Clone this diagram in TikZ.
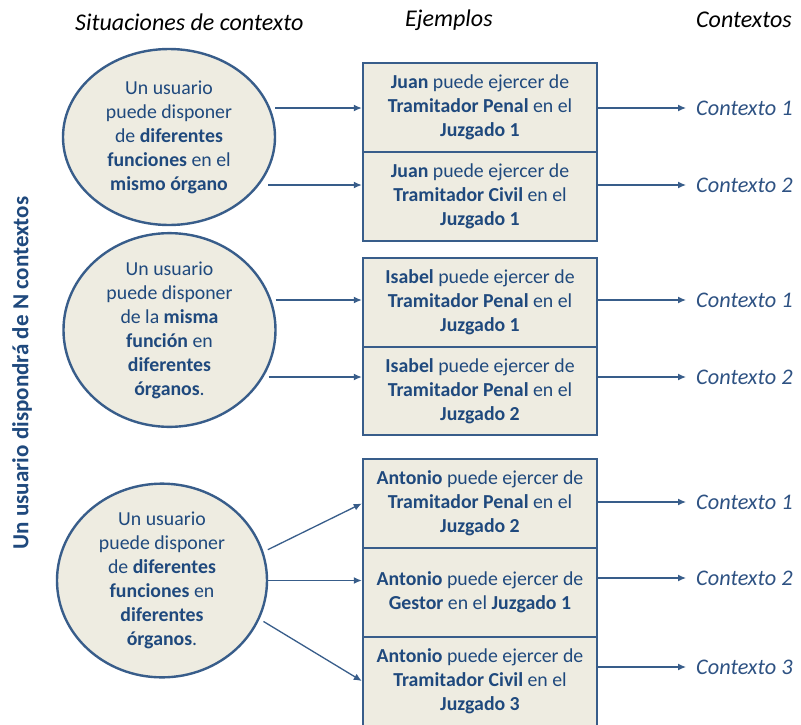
\documentclass[tikz,border=0pt]{standalone}
\usepackage{fontspec}
\setmainfont{Carlito}
\usetikzlibrary{shapes.geometric,arrows.meta}
\definecolor{tan}{HTML}{EEECE1}
\definecolor{edge}{HTML}{385D8A}
\definecolor{ink}{HTML}{1F497D}
\definecolor{inklight}{HTML}{2E5283}
\tikzset{
  situ/.style={ellipse, draw=edge, fill=tan, line width=2.4pt, inner sep=0pt,
    minimum width=212pt, minimum height=176pt, align=center, text=ink,
    font=\fontsize{19.8}{24}\selectfont},
  ejbox/.style={rectangle, draw=edge, fill=tan, line width=2.4pt, inner sep=0pt,
    minimum width=234pt, minimum height=88.5pt, align=center, text=ink,
    font=\fontsize{19.8}{24}\selectfont},
  ctx/.style={anchor=west, inner sep=0pt, text=inklight,
    font=\fontsize{22.3}{24}\selectfont\itshape},
  head/.style={inner sep=0pt, text=black, font=\fontsize{24}{26}\selectfont\itshape},
  arr/.style={draw=edge, line width=1.3pt, -{Latex[length=8pt,width=7pt]}}
}
\begin{document}
\begin{tikzpicture}[x=1pt,y=-1pt]
\clip (0,0) rectangle (801,724);
\fill[white] (0,0) rectangle (801,724);
% headers
\node[head, anchor=west] (h1) at (75,22) {Situaciones de contexto};
\node[head, anchor=west] (h2) at (405,20) {Ejemplos};
\node[head, anchor=west] (h3) at (696,20) {Contextos};
% vertical label
\node[rotate=90, inner sep=0pt, text=ink, font=\fontsize{23}{26}\selectfont\bfseries] (vl) at (22,373) {Un usuario dispondrá de N contextos};
% ellipses
\node[situ] (e1) at (169,137) {Un usuario\\puede disponer\\de \textbf{diferentes}\\\textbf{funciones} en el\\\textbf{mismo órgano}};
\node[situ] (e2) at (169.5,330) {Un usuario\\puede disponer\\de la \textbf{misma}\\\textbf{función} en\\\textbf{diferentes}\\\textbf{órganos}.};
\node[situ, minimum width=210pt, minimum height=179pt] (e3) at (162,580.5) {Un usuario\\puede disponer\\de \textbf{diferentes}\\\textbf{funciones} en\\\textbf{diferentes}\\\textbf{órganos}.};
% boxes
\node[ejbox] (b1) at (480,107.5) {\textbf{Juan} puede ejercer de\\\textbf{Tramitador Penal} en el\\\textbf{Juzgado 1}};
\node[ejbox] (b2) at (480,196.5) {\textbf{Juan} puede ejercer de\\\textbf{Tramitador Civil} en el\\\textbf{Juzgado 1}};
\node[ejbox] (b3) at (480,302.5) {\textbf{Isabel} puede ejercer de\\\textbf{Tramitador Penal} en el\\\textbf{Juzgado 1}};
\node[ejbox] (b4) at (480,391) {\textbf{Isabel} puede ejercer de\\\textbf{Tramitador Penal} en el\\\textbf{Juzgado 2}};
\node[ejbox] (b5) at (480,503.5) {\textbf{Antonio} puede ejercer de\\\textbf{Tramitador Penal} en el\\\textbf{Juzgado 2}};
\node[ejbox] (b6) at (480,592.5) {\textbf{Antonio} puede ejercer de\\\textbf{Gestor} en el \textbf{Juzgado 1}};
\node[ejbox, minimum height=100pt] (b7) at (480,687) {};
\node[align=center, text=ink, inner sep=0pt, font=\fontsize{19.8}{24}\selectfont] (t7) at (480,681) {\textbf{Antonio} puede ejercer de\\\textbf{Tramitador Civil} en el\\\textbf{Juzgado 3}};
% context labels
\node[ctx] (c1) at (696,108) {Contexto 1};
\node[ctx] (c2) at (696,185) {Contexto 2};
\node[ctx] (c3) at (696,300) {Contexto 1};
\node[ctx] (c4) at (696,377) {Contexto 2};
\node[ctx] (c5) at (696,502) {Contexto 1};
\node[ctx] (c6) at (696,578) {Contexto 2};
\node[ctx] (c7) at (696,667) {Contexto 3};
% ellipse -> box arrows
\draw[arr] ([xshift=106pt]e1.center |- c1.west) -- (b1.west |- c1.west);
\draw[arr] ([xshift=99pt]e1.center |- c2.west) -- (b2.west |- c2.west);
\draw[arr] ([xshift=106pt]e2.center |- c3.west) -- (b3.west |- c3.west);
\draw[arr] ([xshift=99pt]e2.center |- c4.west) -- (b4.west |- c4.west);
\draw[arr] ([xshift=5pt]e3.17) -- (b5.west);
\draw[arr] (e3.east) -- (b6.west |- e3.east);
\draw[arr] ([xshift=5pt]e3.-23) -- (b7.west |- t7.center);
% box -> context arrows
\foreach \b/\c in {b1/c1,b2/c2,b3/c3,b4/c4,b5/c5,b6/c6,b7/c7}{
  \draw[arr] (\b.east |- \c.west) -- ([xshift=-10pt]\c.west);
}
\end{tikzpicture}
\end{document}
